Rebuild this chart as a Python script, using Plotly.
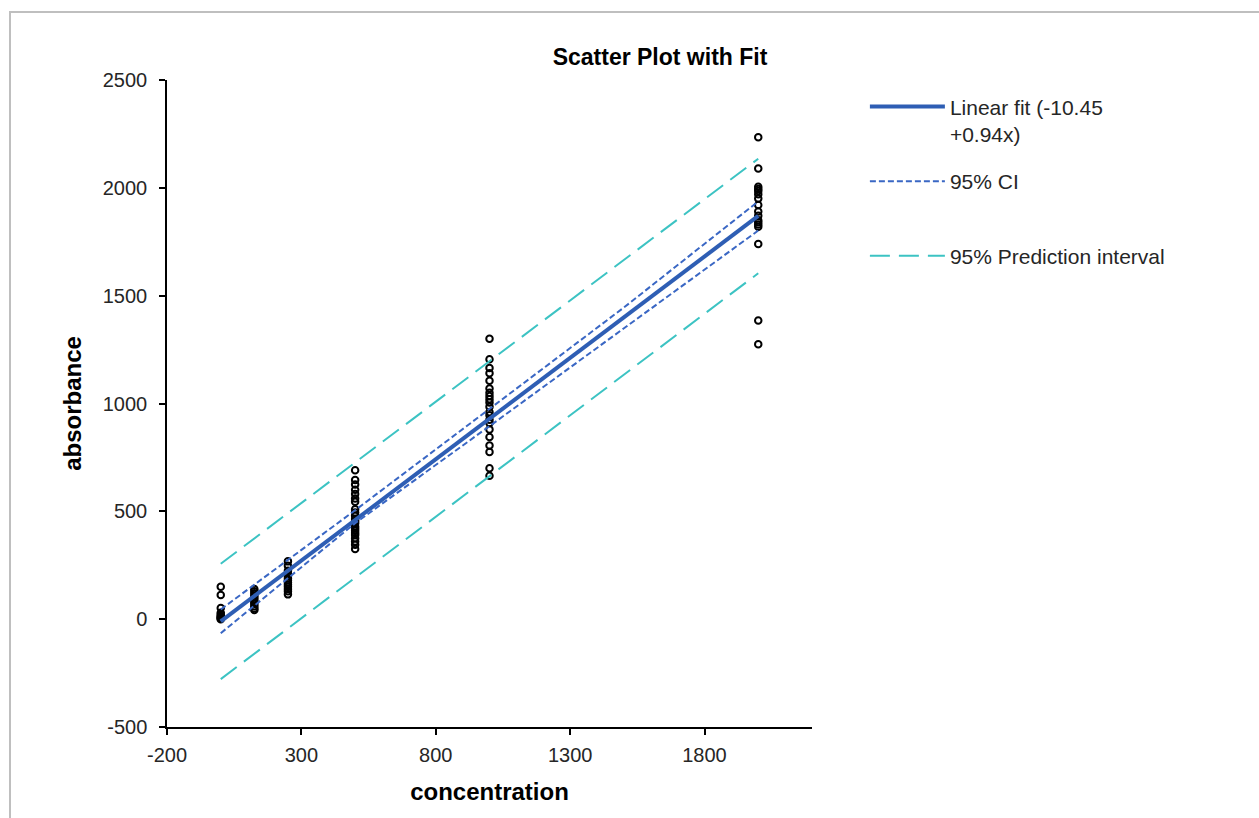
import plotly.graph_objects as go

# ---- data ----
conc_levels = [0, 125, 250, 500, 1000, 2000]
abs_0 = [150, 112, 52, 30, 22, 15, 10, 6, 3, 0]
abs_125 = [140, 130, 120, 110, 100, 90, 80, 70, 60, 50, 42]
abs_250 = [268, 248, 225, 210, 200, 190, 180, 170, 160, 150, 140, 130, 115]
abs_500 = [690, 645, 625, 600, 580, 560, 545, 510, 495, 480, 465, 455, 445, 430,
           420, 410, 400, 390, 375, 360, 345, 325]
abs_1000 = [1300, 1205, 1165, 1140, 1105, 1070, 1050, 1035, 1020, 1005, 985, 960,
            945, 925, 910, 880, 845, 805, 775, 700, 665]
abs_2000 = [2235, 2090, 2005, 1995, 1985, 1970, 1950, 1920, 1890, 1870, 1850, 1840,
            1830, 1820, 1740, 1385, 1275]

fit_x = [0, 2000]
fit_y = [-10.45, 1869.55]
ci_x = [0, 500, 1000, 1500, 2000]
ci_upper = [45, 505, 975, 1445, 1937]
ci_lower = [-65, 445, 895, 1350, 1802]
pi_x = [0, 2000]
pi_upper = [257, 2135]
pi_lower = [-278, 1604]

fit_label = "Linear fit (-10.45<br>+0.94x)"
ci_label = "95% CI"
pi_label = "95% Prediction interval"
title_text = "Scatter Plot with Fit"
x_title = "concentration"
y_title = "absorbance"
x_ticks = [-200, 300, 800, 1300, 1800]
x_tick_text = ["-200", "300", "800", "1300", "1800"]
y_ticks = [-500, 0, 500, 1000, 1500, 2000, 2500]
y_tick_text = ["-500", "0", "500", "1000", "1500", "2000", "2500"]

groups = [abs_0, abs_125, abs_250, abs_500, abs_1000, abs_2000]
pts_x, pts_y = [], []
for c, vals in zip(conc_levels, groups):
    pts_x += [c] * len(vals)
    pts_y += vals

FONT = "Arial, 'Liberation Sans', sans-serif"

fig = go.Figure()
fig.add_trace(go.Scatter(
    x=pts_x, y=pts_y, mode="markers", showlegend=False,
    marker=dict(symbol="circle-open", size=6.5, color="black", line=dict(width=2, color="black")),
))
fig.add_trace(go.Scatter(
    x=fit_x, y=fit_y, mode="lines", name=fit_label, legendgroup="a",
    line=dict(color="#2E5EB4", width=4),
))
fig.add_trace(go.Scatter(
    x=ci_x, y=ci_upper, mode="lines", name=ci_label + "<br> ", legendgroup="b",
    line=dict(color="#3A67C4", width=2, dash="6px,3px"),
))
fig.add_trace(go.Scatter(
    x=ci_x, y=ci_lower, mode="lines", name=ci_label, legendgroup="b", showlegend=False,
    line=dict(color="#3A67C4", width=2, dash="6px,3px"),
))
fig.add_trace(go.Scatter(
    x=pi_x, y=pi_upper, mode="lines", name=pi_label, legendgroup="c",
    line=dict(color="#3CC3C3", width=2, dash="20px,9px"),
))
fig.add_trace(go.Scatter(
    x=pi_x, y=pi_lower, mode="lines", name=pi_label, legendgroup="c", showlegend=False,
    line=dict(color="#3CC3C3", width=2, dash="20px,9px"),
))

axis_common = dict(
    showgrid=False, zeroline=False, showline=True, linecolor="black", linewidth=1.5,
    ticks="outside", ticklen=6, tickwidth=1.5, tickcolor="black",
    tickfont=dict(family=FONT, size=20, color="#262626"),
)
fig.update_xaxes(range=[-200, 2200], tickvals=x_ticks, ticktext=x_tick_text, ticklabelstandoff=3,
                 title=dict(text="<b>" + x_title + "</b>", font=dict(family=FONT, size=24, color="black"), standoff=18),
                 **axis_common)
fig.update_yaxes(range=[-500, 2500], tickvals=y_ticks, ticktext=y_tick_text, ticklabelstandoff=8,
                 title=dict(text="<b>" + y_title + "</b>", font=dict(family=FONT, size=24, color="black"), standoff=14),
                 **axis_common)

fig.update_layout(
    width=1259, height=818,
    margin=dict(l=167, r=447, t=80, b=91),
    plot_bgcolor="white", paper_bgcolor="white",
    title=dict(text="<b>" + title_text + "</b>", x=660 / 1259, xanchor="center", xref="container",
               y=1 - 57 / 818, yanchor="middle", yref="container",
               font=dict(family=FONT, size=23, color="black")),
    legend=dict(x=1.082, xanchor="left", y=0.99, yanchor="top", valign="top",
                font=dict(family=FONT, size=21, color="#262626"),
                itemwidth=75, tracegroupgap=17, traceorder="grouped",
                bgcolor="rgba(0,0,0,0)"),
    shapes=[dict(type="rect", xref="paper", yref="paper",
                 x0=(10 - 167) / 645, x1=(1265 - 167) / 645,
                 y0=(727 - 830) / 647, y1=(727 - 12) / 647,
                 line=dict(color="#BFBFBF", width=2), fillcolor="rgba(0,0,0,0)", layer="below")],
)

fig.write_html("out.html", config={"displayModeBar": False},
               post_script="document.body.style.margin='0';")
